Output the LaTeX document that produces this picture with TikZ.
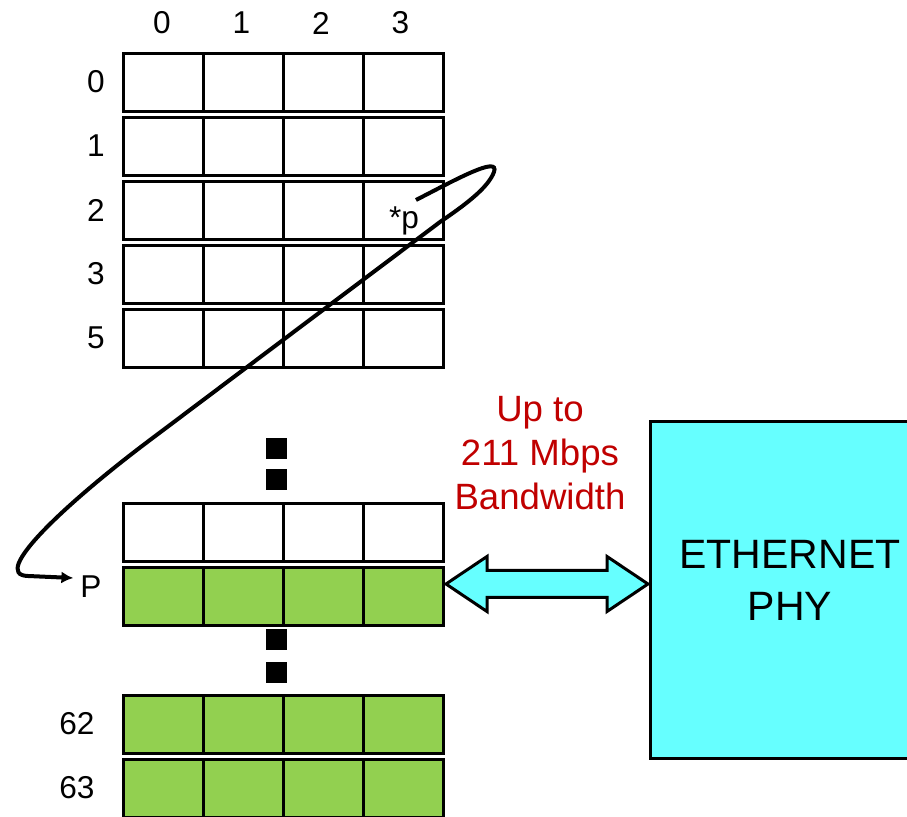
\documentclass[tikz,border=0pt]{standalone}
\usepackage{fontspec}
\setmainfont{Liberation Sans}
\usepackage{tikz}
\usepackage{xcolor}
\usetikzlibrary{arrows.meta}
\definecolor{memgreen}{RGB}{146,208,80}
\definecolor{phycyan}{RGB}{102,255,255}
\definecolor{bwred}{RGB}{192,0,0}

\begin{document}
\begin{tikzpicture}[x=0.5pt,y=-0.5pt,>={Latex[length=6pt,width=6pt]},
    cell/.style={draw,line width=1.5pt,minimum width=40pt,minimum height=29pt,inner sep=0pt,outer sep=0pt},
    lbl/.style={font=\fontsize{15.8}{18}\selectfont},
    dotbox/.style={fill=black,minimum size=10.5pt,inner sep=0pt}]
    \useasboundingbox (0,0) rectangle (907,817);
    \foreach \c in {0,...,3}{
    \node[lbl] (col\c) at (162+79.5*\c,23) {\c};
    }
    \foreach \r/\y/\lx/\l/\f in {a/82/96/0/white,b/146/96/1/white,c/210/96/2/white,d/274/96/3/white,e/338/96/5/white,f/531.5/96/{}/white,p/595.5/96/{}/memgreen,g/723.5/77/62/memgreen,h/787.5/77/63/memgreen}{
    \foreach \c in {0,...,3}{
    \node[cell,fill=\f] (\r\c) at (163+80*\c,\y+1) {};
    }
    \node[lbl] (lab\r) at (\lx,\y) {\l};
    }
    \node[dotbox] (dot1) at (276.5,448.5) {};
    \node[dotbox] (dot2) at (276.5,480) {};
    \node[dotbox] (dot3) at (276.5,640) {};
    \node[dotbox] (dot4) at (276.5,672.5) {};
    \node[lbl] (ptr) at (404,221) {*p};
    \node[lbl] (plbl) at (91,587) {P};
    \coordinate (tail) at (416,200);
    \draw[->,line width=2pt] (tail) .. controls (455,180) and (500,155) .. (494,172) .. controls (488,188) and (465,205) .. (440,222) -- (150,440) .. controls (70,500) and (-12,575) .. (28,576) -- ([yshift=4.5pt]plbl.west);
    \node[text=bwred,align=center,font=\fontsize{18.3}{22}\selectfont] (bw) at (540,453) {Up to\\211 Mbps\\Bandwidth};
    \node[draw,line width=1.5pt,fill=phycyan,minimum width=140pt,minimum height=168.5pt] (phy) at (790,590.5) {};
    \node[align=center,font=\fontsize{20.5}{26}\selectfont] (phytxt) at (790,580) {ETHERNET\\PHY};
    \coordinate (lt) at (446,584);
    \draw[fill=phycyan,line width=1.5pt] (lt) -- ++(41,-27.5) -- ++(0,14) -- ++(120,0) -- ++(0,-14) -- ++(41,27.5) -- ++(-41,27.5) -- ++(0,-14) -- ++(-120,0) -- ++(0,14) -- cycle;
\end{tikzpicture}
\end{document}
